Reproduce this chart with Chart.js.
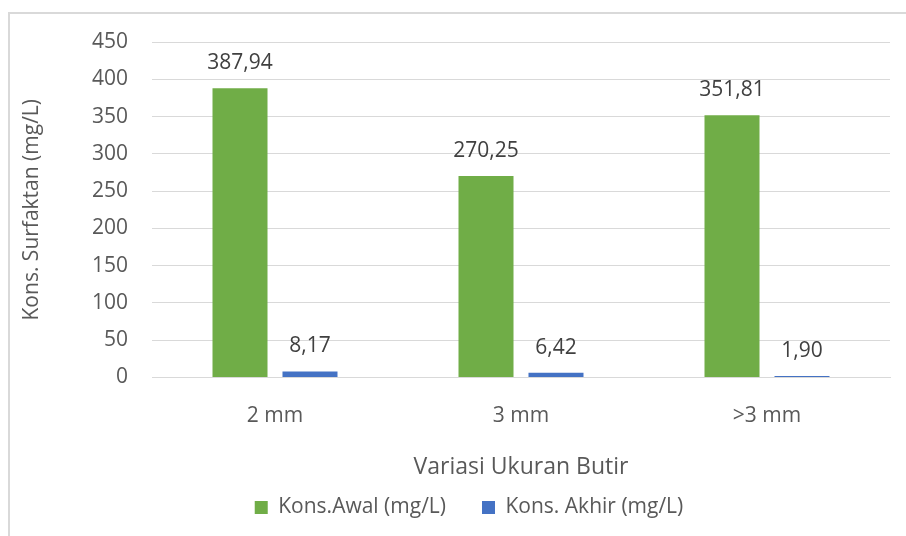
<!DOCTYPE html>
<html>
<head>
<meta charset="utf-8">
<script src="https://cdn.jsdelivr.net/npm/chart.js@4.4.1/dist/chart.umd.min.js"></script>
<style>
  html, body { margin: 0; padding: 0; background: #fff; overflow: hidden; }
  #wrap { position: relative; width: 906px; height: 536px; overflow: hidden; }
  #frame { position: absolute; left: 8px; top: 12px; width: 960px; height: 600px;
           border: 2px solid #d9d9d9; box-sizing: border-box; }
  #box { position: absolute; left: 0; top: 0; width: 938px; height: 536px; }
</style>
</head>
<body>
<div id="wrap">
  <div id="frame"></div>
  <div id="box"><canvas id="c"></canvas></div>
</div>
<script>
const categories = ['2 mm', '3 mm', '>3 mm'];
const konsAwal = [387.94, 270.25, 351.81];
const konsAkhir = [8.17, 6.42, 1.90];
const yTicks = [0, 50, 100, 150, 200, 250, 300, 350, 400, 450];

const FONT = '"Open Sans", "Noto Sans", sans-serif';
const TEXT = '#595959';

// Writes each bar's value above it, with a decimal comma
const valueLabels = {
  id: 'valueLabels',
  afterDatasetsDraw(chart) {
    const ctx = chart.ctx;
    ctx.save();
    ctx.font = '21px ' + FONT;
    ctx.fillStyle = '#404040';
    ctx.textAlign = 'center';
    ctx.textBaseline = 'middle';
    chart.data.datasets.forEach((ds, i) => {
      chart.getDatasetMeta(i).data.forEach((bar, j) => {
        const txt = ds.data[j].toFixed(2).replace('.', ',');
        ctx.fillText(txt, bar.x, bar.y - 25);
      });
    });
    ctx.restore();
  }
};

new Chart(document.getElementById('c'), {
  type: 'bar',
  data: {
    labels: categories,
    datasets: [
      { label: 'Kons.Awal (mg/L)', data: konsAwal, backgroundColor: '#70AD47',
        categoryPercentage: 0.569, barPercentage: 0.786 },
      { label: 'Kons. Akhir (mg/L)', data: konsAkhir, backgroundColor: '#4472C4',
        categoryPercentage: 0.569, barPercentage: 0.786 }
    ]
  },
  options: {
    responsive: true,
    maintainAspectRatio: false,
    animation: false,
    devicePixelRatio: 1,
    layout: { padding: { left: 48, right: 48, top: 42, bottom: 8 } },
    plugins: {
      tooltip: { enabled: false },
      legend: {
        position: 'bottom',
        labels: {
          boxWidth: 13, boxHeight: 13, padding: 36,
          color: TEXT, font: { family: FONT, size: 21 }
        }
      }
    },
    scales: {
      x: {
        grid: { display: false, drawTicks: false },
        border: { color: '#d9d9d9', width: 1 },
        ticks: { color: TEXT, font: { family: FONT, size: 21 }, padding: 26 },
        title: { display: true, text: 'Variasi Ukuran Butir', color: TEXT,
                 font: { family: FONT, size: 23 }, padding: { top: 0, bottom: -20 } },
        afterFit(s) { s.height = 83.5; }
      },
      y: {
        min: 0, max: 450,
        afterBuildTicks(s) { s.ticks = yTicks.map(v => ({ value: v })); },
        grid: { color: '#d9d9d9', drawTicks: false },
        border: { display: false },
        ticks: { color: TEXT, font: { family: FONT, size: 21 }, padding: 24 },
        title: { display: true, text: 'Kons. Surfaktan (mg/L)', color: TEXT,
                 font: { family: FONT, size: 21 }, padding: { top: -29, bottom: 0 } },
        afterFit(s) { s.width = 104; }
      }
    }
  },
  plugins: [valueLabels]
});
</script>
</body>
</html>
